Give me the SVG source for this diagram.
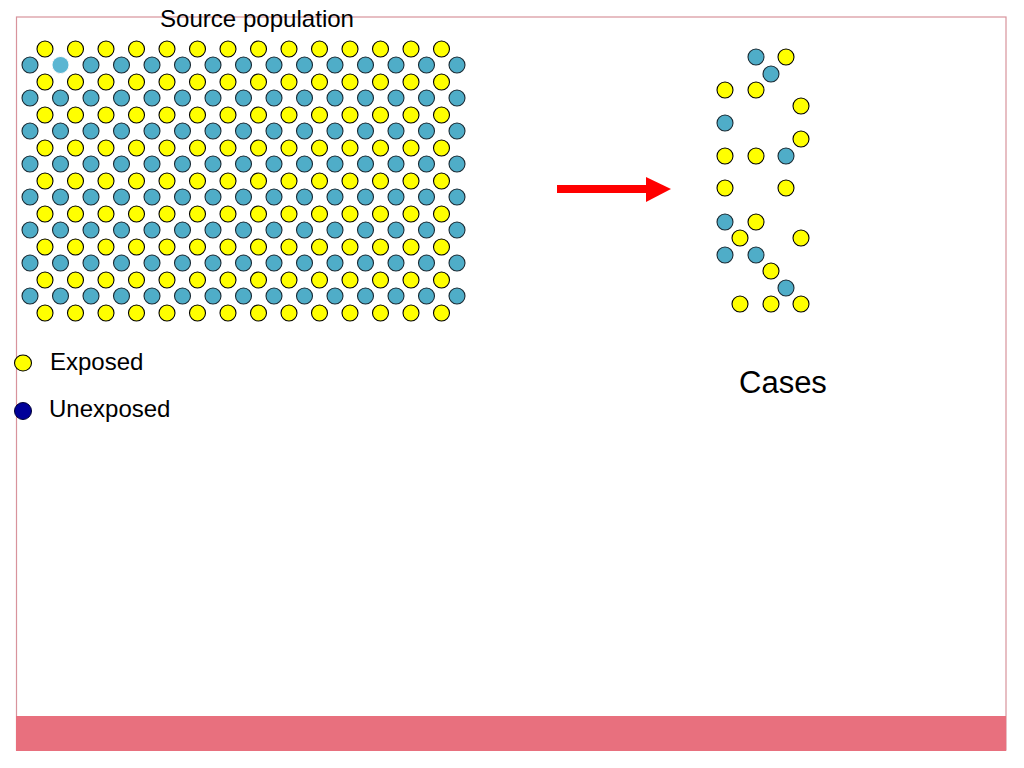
<svg xmlns="http://www.w3.org/2000/svg" xmlns:xlink="http://www.w3.org/1999/xlink" width="1024" height="768" viewBox="0 0 1024 768">
<style>
.y{fill:#FFFF00;stroke:#000;stroke-width:1.1}
.b{fill:#4FADC8;stroke:#1a2a33;stroke-width:1.1}
.t{font-family:"Liberation Sans",Arial,sans-serif;fill:#000}
</style>
<defs>
<g id="yrow">
<circle class="y" cx="45" cy="0" r="8"/><circle class="y" cx="75.5" cy="0" r="8"/><circle class="y" cx="106" cy="0" r="8"/><circle class="y" cx="136.5" cy="0" r="8"/><circle class="y" cx="167" cy="0" r="8"/><circle class="y" cx="197.5" cy="0" r="8"/><circle class="y" cx="228" cy="0" r="8"/><circle class="y" cx="258.5" cy="0" r="8"/><circle class="y" cx="289" cy="0" r="8"/><circle class="y" cx="319.5" cy="0" r="8"/><circle class="y" cx="350" cy="0" r="8"/><circle class="y" cx="380.5" cy="0" r="8"/><circle class="y" cx="411" cy="0" r="8"/><circle class="y" cx="441.5" cy="0" r="8"/>
</g>
<g id="brow">
<circle class="b" cx="30" cy="0" r="8"/><circle class="b" cx="60.5" cy="0" r="8"/><circle class="b" cx="91" cy="0" r="8"/><circle class="b" cx="121.5" cy="0" r="8"/><circle class="b" cx="152" cy="0" r="8"/><circle class="b" cx="182.5" cy="0" r="8"/><circle class="b" cx="213" cy="0" r="8"/><circle class="b" cx="243.5" cy="0" r="8"/><circle class="b" cx="274" cy="0" r="8"/><circle class="b" cx="304.5" cy="0" r="8"/><circle class="b" cx="335" cy="0" r="8"/><circle class="b" cx="365.5" cy="0" r="8"/><circle class="b" cx="396" cy="0" r="8"/><circle class="b" cx="426.5" cy="0" r="8"/><circle class="b" cx="457" cy="0" r="8"/>
</g>
</defs>
<rect x="0" y="0" width="1024" height="768" fill="#fff"/>
<rect x="16.5" y="17" width="989.5" height="733" fill="none" stroke="#D8939C" stroke-width="1.2"/>
<rect x="16" y="716" width="990" height="35" fill="#E8707E"/>
<text class="t" x="160" y="27" font-size="24" textLength="194" lengthAdjust="spacingAndGlyphs">Source population</text>
<g id="source-population">
<use xlink:href="#yrow" y="49"/><use xlink:href="#yrow" y="82"/><use xlink:href="#yrow" y="115"/><use xlink:href="#yrow" y="148"/><use xlink:href="#yrow" y="181"/><use xlink:href="#yrow" y="214"/><use xlink:href="#yrow" y="247"/><use xlink:href="#yrow" y="280"/><use xlink:href="#yrow" y="313"/>
<use xlink:href="#brow" y="65"/><use xlink:href="#brow" y="98"/><use xlink:href="#brow" y="131"/><use xlink:href="#brow" y="164"/><use xlink:href="#brow" y="197"/><use xlink:href="#brow" y="230"/><use xlink:href="#brow" y="263"/><use xlink:href="#brow" y="296"/>
<circle cx="60.5" cy="65" r="9" fill="#fff"/>
<circle cx="60.5" cy="65" r="8" fill="#5BB6D2"/>
</g>
<g id="arrow">
<rect x="557" y="185" width="91" height="8" fill="#FF0000"/>
<polygon points="646,177 671,189 646,202" fill="#FF0000"/>
</g>
<g id="cases">
<circle class="b" cx="756" cy="57" r="8"/><circle class="y" cx="786" cy="57" r="8"/>
<circle class="b" cx="771" cy="74" r="8"/>
<circle class="y" cx="725" cy="90" r="8"/><circle class="y" cx="756" cy="90" r="8"/>
<circle class="y" cx="801" cy="106" r="8"/>
<circle class="b" cx="725" cy="123" r="8"/>
<circle class="y" cx="801" cy="139" r="8"/>
<circle class="y" cx="725" cy="156" r="8"/><circle class="y" cx="756" cy="156" r="8"/><circle class="b" cx="786" cy="156" r="8"/>
<circle class="y" cx="725" cy="188" r="8"/><circle class="y" cx="786" cy="188" r="8"/>
<circle class="b" cx="725" cy="222" r="8"/><circle class="y" cx="756" cy="222" r="8"/>
<circle class="y" cx="740" cy="238" r="8"/><circle class="y" cx="801" cy="238" r="8"/>
<circle class="b" cx="725" cy="255" r="8"/><circle class="b" cx="756" cy="255" r="8"/>
<circle class="y" cx="771" cy="271" r="8"/>
<circle class="b" cx="786" cy="288" r="8"/>
<circle class="y" cx="740" cy="304" r="8"/><circle class="y" cx="771" cy="304" r="8"/><circle class="y" cx="801" cy="304" r="8"/>
</g>
<text class="t" x="739" y="393" font-size="31">Cases</text>
<g id="legend-exposed">
<ellipse class="y" cx="23" cy="363" rx="8.5" ry="8"/>
<text class="t" x="50" y="370" font-size="24">Exposed</text>
</g>
<g id="legend-unexposed">
<ellipse cx="23" cy="411" rx="8.5" ry="8.5" fill="#000099" stroke="#000033" stroke-width="1"/>
<text class="t" x="49" y="417" font-size="24">Unexposed</text>
</g>
</svg>
